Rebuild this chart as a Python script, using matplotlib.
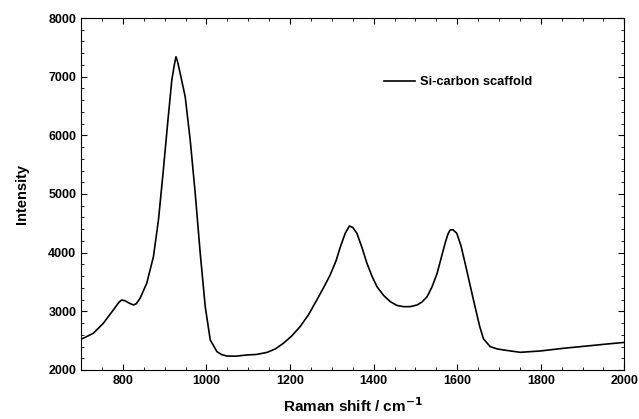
import matplotlib
matplotlib.use("Agg")
import matplotlib.pyplot as plt
from matplotlib.ticker import MultipleLocator

plt.rcParams["font.family"] = ["Liberation Sans", "DejaVu Sans"]
plt.rcParams["font.weight"] = "bold"
plt.rcParams["mathtext.default"] = "bf"

# Raman spectrum
shift = [700, 705, 729, 753, 777, 790, 797, 805, 815, 825, 832, 841, 857, 873,
         885, 896, 907, 917, 923, 927, 931, 937, 949, 961, 973, 985, 997,
         1009, 1025, 1037, 1049, 1070, 1097, 1120, 1145, 1165, 1184, 1204,
         1224, 1244, 1264, 1280, 1296, 1310, 1320, 1332, 1342, 1350, 1360,
         1372, 1384, 1396, 1408, 1424, 1440, 1456, 1472, 1488, 1504, 1516,
         1528, 1540, 1552, 1571, 1578, 1583, 1590, 1599, 1609, 1619, 1639,
         1654, 1663, 1679, 1695, 1711, 1751, 1799, 1855, 1911, 1959, 1994,
         2000]
intensity = [2530, 2540, 2625, 2796, 3023, 3150, 3193, 3180, 3140, 3108, 3130,
             3222, 3478, 3931, 4557, 5353, 6205, 6943, 7200, 7340, 7250, 7057,
             6659, 5920, 5012, 3989, 3079, 2511, 2312, 2260, 2238, 2235, 2256,
             2265, 2300, 2360, 2455, 2580, 2739, 2940, 3193, 3400, 3620, 3860,
             4090, 4330, 4454, 4430, 4330, 4090, 3819, 3600, 3420, 3270, 3164,
             3100, 3079, 3080, 3108, 3160, 3249, 3420, 3648, 4159, 4320, 4386,
             4390, 4330, 4120, 3819, 3193, 2739, 2530, 2398, 2360, 2341, 2301,
             2324, 2370, 2409, 2443, 2466, 2470]
label = "Si-carbon scaffold"

fig, ax = plt.subplots(figsize=(6.39, 4.19), dpi=100)
fig.subplots_adjust(left=0.127, right=0.977, top=0.957, bottom=0.117)

ax.plot(shift, intensity, color="black", linewidth=1.2, label=label)

ax.set_xlim(700, 2000)
ax.set_ylim(2000, 8000)
ax.xaxis.set_major_locator(MultipleLocator(200))
ax.xaxis.set_minor_locator(MultipleLocator(50))
ax.yaxis.set_major_locator(MultipleLocator(1000))
ax.yaxis.set_minor_locator(MultipleLocator(200))
ax.tick_params(which="both", direction="in", top=True, right=True, labelsize=9)
ax.tick_params(which="major", length=4)
ax.tick_params(which="minor", length=2)
for s in ax.spines.values():
    s.set_linewidth(0.8)

ax.set_xlabel("Raman shift / cm$^{-1}$", fontsize=11, fontweight="bold",
              labelpad=7)
ax.set_ylabel("Intensity", fontsize=10.5, fontweight="bold", labelpad=14)

ax.legend(loc="center left", bbox_to_anchor=(0.558, 0.818), frameon=False,
          fontsize=9.3, handlelength=2.4, handletextpad=0.4, borderpad=0,
          borderaxespad=0)

plt.savefig("out.png", dpi=100)
